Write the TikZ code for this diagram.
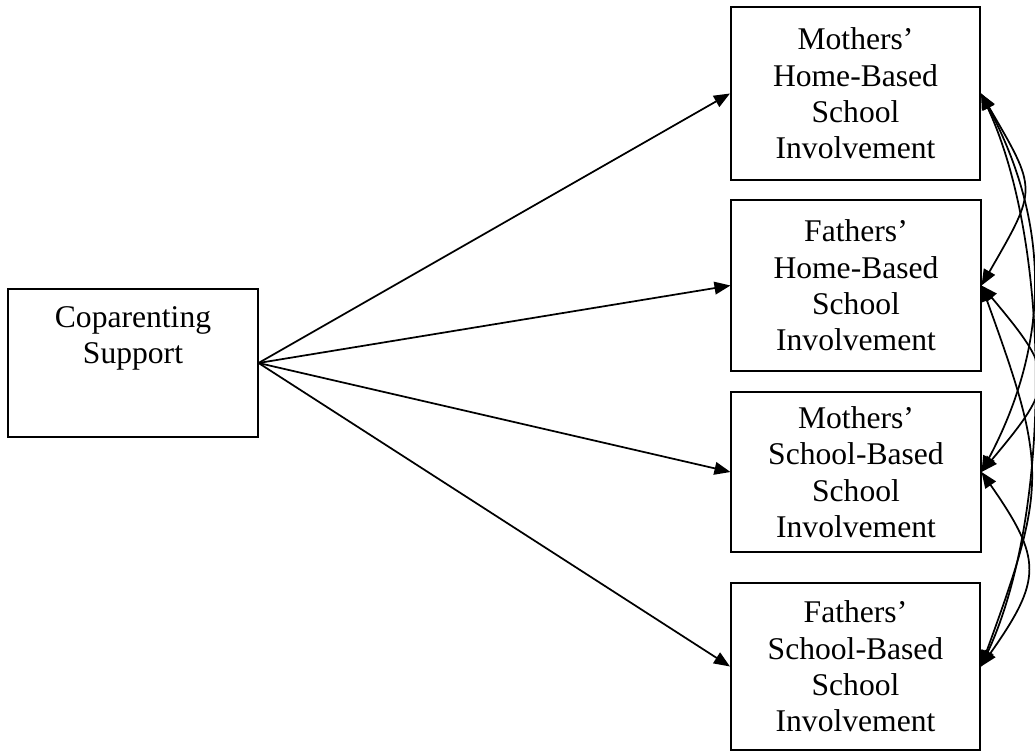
\documentclass[tikz,border=0pt]{standalone}
\usepackage{fontspec}
\setmainfont{Liberation Serif}
\usetikzlibrary{arrows.meta}

\begin{document}
\begin{tikzpicture}[x=0.75pt,y=0.75pt,yscale=-1,xscale=1,
    box/.style={draw, line width=1.3pt, align=center, inner sep=0pt, minimum width=187pt, font=\fontsize{23.7pt}{27.3pt}\selectfont},
    link/.style={-{Triangle[length=12pt,width=9.5pt]}, line width=1.3pt},
    covary/.style={{Triangle[length=12pt,width=9.5pt]}-{Triangle[length=12pt,width=9.5pt]}, line width=1.3pt}]
    %set diagram left start at 0, and has height of 752
    \useasboundingbox (0,0) rectangle (1035,752);

    %Shape: Rectangle [id:cs]
    \node[box, minimum height=111pt] (cs) at (133,363) {\parbox[c][111pt][t]{187pt}{\centering\vspace*{13pt}Coparenting\\Support}};
    %Shape: Rectangle [id:mh]
    \node[box, minimum height=129.75pt] (mh) at (855.5,93.5) {Mothers’\\Home-Based\\School\\Involvement};
    %Shape: Rectangle [id:fh]
    \node[box, minimum height=128.25pt] (fh) at (856,285.5) {Fathers’\\Home-Based\\School\\Involvement};
    %Shape: Rectangle [id:ms]
    \node[box, minimum height=120pt] (ms) at (856,472) {Mothers’\\School-Based\\School\\Involvement};
    %Shape: Rectangle [id:fs]
    \node[box, minimum height=125.25pt] (fs) at (855.5,666.5) {Fathers’\\School-Based\\School\\Involvement};

    %Straight Lines [id:cs-mh]
    \draw[link] (cs.east) -- (mh.west) ;
    %Straight Lines [id:cs-fh]
    \draw[link] (cs.east) -- (fh.west) ;
    %Straight Lines [id:cs-ms]
    \draw[link] (cs.east) -- (ms.west) ;
    %Straight Lines [id:cs-fs]
    \draw[link] (cs.east) -- (fs.west) ;

    %Curve Lines [id:mh-fh]
    \draw[covary] (mh.east) to[bend right=30, looseness=1.5] (fh.east) ;
    %Curve Lines [id:mh-ms]
    \draw[covary] (mh.east) to[bend right=28, looseness=1] (ms.east) ;
    %Curve Lines [id:mh-fs]
    \draw[covary] (mh.east) to[bend right=25, looseness=0.75] (fs.east) ;
    %Curve Lines [id:fh-ms]
    \draw[covary] (fh.east) to[bend right=40, looseness=1.6] (ms.east) ;
    %Curve Lines [id:fh-fs]
    \draw[covary] (fh.east) to[bend right=20, looseness=1.3] (fs.east) ;
    %Curve Lines [id:ms-fs]
    \draw[covary] (ms.east) to[bend right=35, looseness=1.4] (fs.east) ;
\end{tikzpicture}
\end{document}
